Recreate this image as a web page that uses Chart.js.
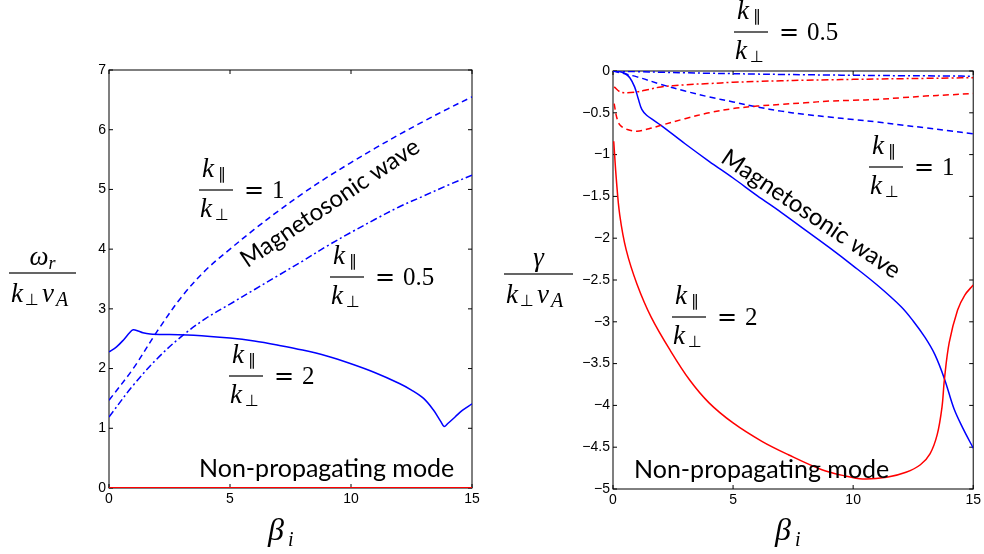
<!DOCTYPE html>
<html>
<head>
<meta charset="utf-8">
<script src="https://cdn.jsdelivr.net/npm/chart.js@4.4.1/dist/chart.umd.min.js"></script>
<style>
  html, body { margin: 0; padding: 0; background: #fff; }
  #wrap { position: relative; width: 984px; height: 554px; overflow: hidden; }
  canvas { position: absolute; top: 0; }
  #omega { left: 0; }
  #gamma { left: 492px; }
</style>
</head>
<body>
<div id="wrap">
  <canvas id="omega" width="492" height="554"></canvas>
  <canvas id="gamma" width="492" height="554"></canvas>
</div>
<script>
// ---- data ----
const betaTicks = [0, 5, 10, 15];
const omegaTicks = [0, 1, 2, 3, 4, 5, 6, 7];
const gammaTicks = [0, -0.5, -1, -1.5, -2, -2.5, -3, -3.5, -4, -4.5, -5];

// left panel: real frequency
const betaGrid = [0, 1, 2, 3, 4, 5, 6, 7, 8, 9, 10, 11, 12, 13, 14, 15];
const betaOmegaK2 = [0, 0.3, 0.6, 0.85, 1.0, 1.2, 1.4, 1.7, 2.5, 3.5, 5, 6, 7, 8, 9, 10, 11, 12, 12.5, 13, 13.4, 13.7, 13.85, 14, 14.3, 14.6, 15];
const omegaK2 = [2.28, 2.36, 2.48, 2.6, 2.65, 2.63, 2.6, 2.58, 2.57, 2.56, 2.51, 2.46, 2.39, 2.31, 2.21, 2.08, 1.93, 1.75, 1.64, 1.5, 1.31, 1.12, 1.03, 1.08, 1.19, 1.3, 1.41];
const omegaK1 = [1.47, 2.0, 2.63, 3.2, 3.65, 4.0, 4.33, 4.64, 4.93, 5.2, 5.45, 5.69, 5.92, 6.14, 6.35, 6.55];
const omegaK05 = [1.19, 1.72, 2.17, 2.54, 2.84, 3.08, 3.32, 3.56, 3.8, 4.05, 4.28, 4.5, 4.71, 4.89, 5.07, 5.24];
const betaNonProp = [0, 15];
const omegaNonProp = [0, 0];

// right panel: damping rate
const betaMs2 = [0, 0.3, 0.5, 0.7, 0.9, 1.05, 1.2, 1.4, 1.7, 2, 3, 4, 5, 6, 7, 8, 9, 10, 11, 12, 12.5, 13, 13.4, 13.8, 14.2, 14.6, 15];
const gammaMs2 = [0, -0.01, -0.03, -0.08, -0.19, -0.33, -0.46, -0.53, -0.59, -0.65, -0.87, -1.08, -1.28, -1.49, -1.69, -1.9, -2.11, -2.33, -2.56, -2.82, -2.99, -3.19, -3.39, -3.68, -4.04, -4.29, -4.51];
const gammaMs1 = [0, -0.07, -0.16, -0.24, -0.31, -0.37, -0.43, -0.48, -0.52, -0.55, -0.58, -0.61, -0.645, -0.68, -0.715, -0.75];
const gammaMs05 = [0, -0.008, -0.015, -0.021, -0.027, -0.032, -0.037, -0.041, -0.045, -0.048, -0.051, -0.054, -0.056, -0.058, -0.06, -0.062];
const betaNp2 = [0.03, 0.14, 0.28, 0.55, 1.0, 1.6, 2.4, 3.2, 4.0, 5.0, 6.2, 7.3, 8.7, 9.6, 10.4, 11.4, 12.2, 12.8, 13.2, 13.5, 13.7, 13.8, 14.0, 14.35, 14.65, 15];
const gammaNp2 = [-0.84, -1.3, -1.72, -2.14, -2.55, -2.95, -3.35, -3.7, -3.97, -4.21, -4.43, -4.59, -4.77, -4.84, -4.88, -4.86, -4.8, -4.71, -4.58, -4.35, -4.02, -3.69, -3.25, -2.86, -2.68, -2.56];
const betaNp1 = [0.05, 0.15, 0.3, 0.6, 1, 1.5, 2, 3, 4, 5, 6, 7, 8, 9, 10, 11, 12, 13, 14, 15];
const gammaNp1 = [-0.39, -0.55, -0.65, -0.7, -0.72, -0.69, -0.65, -0.57, -0.5, -0.45, -0.42, -0.4, -0.38, -0.36, -0.35, -0.34, -0.32, -0.3, -0.285, -0.27];
const betaNp05 = [0.05, 0.3, 0.6, 1, 1.5, 2, 3, 4, 5, 6, 7, 8, 9, 10, 11, 12, 13, 14, 15];
const gammaNp05 = [-0.19, -0.25, -0.26, -0.25, -0.22, -0.19, -0.165, -0.15, -0.135, -0.125, -0.117, -0.11, -0.105, -0.1, -0.096, -0.092, -0.088, -0.084, -0.08];

const BLUE = '#0000ff';
const RED = '#ff0000';
const DASH = [6, 4];
const DASHDOT = [7, 3, 2, 3];

const pts = (xs, ys) => xs.map((x, i) => ({ x, y: ys[i] }));

const line = (xs, ys, color, dash, width) => ({
  data: pts(xs, ys),
  borderColor: color,
  borderWidth: width || 1.5,
  borderDash: dash || [],
  pointRadius: 0,
  fill: false,
  tension: 0.35
});

// ---- text helpers ----
const SERIF = '"Liberation Serif", serif';
const MATH_IT = 'italic 27px ' + SERIF;
const SUB = '16px "DejaVu Sans", sans-serif';

function frac(ctx, x0, yb, rhs) {
  ctx.fillStyle = '#000';
  ctx.textAlign = 'left';
  ctx.textBaseline = 'alphabetic';
  ctx.font = MATH_IT;
  ctx.fillText('k', x0 + 3, yb - 13);
  ctx.fillText('k', x0 + 1, yb + 27);
  ctx.font = SUB;
  ctx.fillText('∥', x0 + 19, yb - 11);
  ctx.fillText('⊥', x0 + 16, yb + 30);
  ctx.fillRect(x0, yb - 0.6, 34, 1.2);
  ctx.font = '24px "DejaVu Sans", sans-serif';
  ctx.fillText('=', x0 + 45, yb + 8);
  ctx.font = '25px ' + SERIF;
  ctx.fillText(rhs, x0 + 73, yb + 8);
}

function yLabel(ctx, x0, x1, yb, top, topSub) {
  ctx.fillStyle = '#000';
  ctx.textBaseline = 'alphabetic';
  ctx.fillRect(x0, yb - 0.6, x1 - x0, 1.2);
  const cx = (x0 + x1) / 2;
  ctx.font = MATH_IT;
  const w1 = ctx.measureText(top).width;
  ctx.font = 'italic 18px ' + SERIF;
  const w2 = topSub ? ctx.measureText(topSub).width : 0;
  const sx = cx - (w1 + w2) / 2;
  ctx.textAlign = 'left';
  ctx.font = MATH_IT;
  ctx.fillText(top, sx, yb - 8);
  if (topSub) {
    ctx.font = 'italic 18px ' + SERIF;
    ctx.fillText(topSub, sx + w1, yb - 4);
  }
  ctx.font = MATH_IT;
  ctx.fillText('k', x0 + 2, yb + 29);
  ctx.font = SUB;
  ctx.fillText('⊥', x0 + 16, yb + 32);
  ctx.font = MATH_IT;
  ctx.fillText('v', x0 + 33, yb + 29);
  ctx.font = 'italic 20px ' + SERIF;
  ctx.fillText('A', x0 + 47, yb + 33);
}

function betaLabel(ctx, x, yb) {
  ctx.fillStyle = '#000';
  ctx.textAlign = 'left';
  ctx.textBaseline = 'alphabetic';
  ctx.font = 'italic 32px ' + SERIF;
  ctx.fillText('β', x, yb);
  ctx.font = 'italic 20px ' + SERIF;
  ctx.fillText('i', x + 20, yb + 6);
}

function sansText(ctx, txt, x, yb) {
  ctx.fillStyle = '#000';
  ctx.textAlign = 'left';
  ctx.textBaseline = 'alphabetic';
  ctx.font = '25px Lato, sans-serif';
  ctx.fillText(txt, x, yb);
}

function rotText(ctx, txt, cx, cy, deg) {
  ctx.save();
  ctx.translate(cx, cy);
  ctx.rotate(deg * Math.PI / 180);
  ctx.fillStyle = '#000';
  ctx.textAlign = 'center';
  ctx.textBaseline = 'middle';
  ctx.font = '24px Lato, sans-serif';
  ctx.fillText(txt, 0, 0);
  ctx.restore();
}

// page-coordinate drawers (right canvas is shifted by 492px)
const drawers = {
  omega(ctx) {
    yLabel(ctx, 9, 76, 273, 'ω', 'r');
    betaLabel(ctx, 268, 540);
    frac(ctx, 199, 190, '1');
    frac(ctx, 330, 277, '0.5');
    frac(ctx, 229, 376, '2');
    rotText(ctx, 'Magnetosonic wave', 330, 203, -34);
    sansText(ctx, 'Non-propagating mode', 199, 477);
  },
  gamma(ctx) {
    ctx.translate(-492, 0);
    yLabel(ctx, 504, 573, 274, 'γ', '');
    betaLabel(ctx, 775, 540);
    frac(ctx, 734, 32, '0.5');
    frac(ctx, 869, 167, '1');
    frac(ctx, 672, 317, '2');
    rotText(ctx, 'Magnetosonic wave', 811, 214, 34);
    sansText(ctx, 'Non-propagating mode', 634, 478);
  }
};

const boxPlugin = {
  id: 'box',
  beforeDatasetsDraw(chart) {
    const { ctx, chartArea: a, scales } = chart;
    ctx.save();
    ctx.strokeStyle = '#000';
    ctx.lineWidth = 1;
    ctx.strokeRect(a.left, a.top, a.right - a.left, a.bottom - a.top);
    ctx.beginPath();
    const tl = 4;
    scales.x.ticks.forEach(t => {
      const px = scales.x.getPixelForValue(t.value);
      ctx.moveTo(px, a.bottom); ctx.lineTo(px, a.bottom - tl);
      ctx.moveTo(px, a.top); ctx.lineTo(px, a.top + tl);
    });
    scales.y.ticks.forEach(t => {
      const py = scales.y.getPixelForValue(t.value);
      ctx.moveTo(a.left, py); ctx.lineTo(a.left + tl, py);
      ctx.moveTo(a.right, py); ctx.lineTo(a.right - tl, py);
    });
    ctx.stroke();
    ctx.restore();
  },
  afterDraw(chart) {
    const ctx = chart.ctx;
    ctx.save();
    drawers[chart.canvas.id](ctx);
    ctx.restore();
  }
};

const tickFont = { family: '"Liberation Sans", Arial, Helvetica, sans-serif', size: 14 };

function xScale() {
  return {
    type: 'linear', min: 0, max: 15,
    afterBuildTicks: s => { s.ticks = betaTicks.map(v => ({ value: v })); },
    afterFit: s => { s.height = 24; },
    grid: { display: false, drawTicks: false },
    border: { display: false },
    ticks: { padding: 3, font: tickFont, color: '#000', maxRotation: 0, autoSkip: false }
  };
}

function yScale(min, max, list, width, fmt) {
  return {
    type: 'linear', min, max,
    afterBuildTicks: s => { s.ticks = list.map(v => ({ value: v })); },
    afterFit: s => { s.width = width; },
    grid: { display: false, drawTicks: false },
    border: { display: false },
    ticks: { padding: 3, font: tickFont, color: '#000', autoSkip: false, callback: fmt }
  };
}

const baseOptions = (padding, yCfg) => ({
  responsive: false,
  animation: false,
  devicePixelRatio: 1,
  layout: { padding },
  plugins: { legend: { display: false }, tooltip: { enabled: false } },
  scales: { x: xScale(), y: yCfg }
});

function build() {
  new Chart(document.getElementById('omega'), {
    type: 'line',
    data: {
      datasets: [
        line(betaNonProp, omegaNonProp, RED, [], 2),
        line(betaOmegaK2, omegaK2, BLUE),
        line(betaGrid, omegaK1, BLUE, DASH),
        line(betaGrid, omegaK05, BLUE, DASHDOT)
      ]
    },
    options: baseOptions({ left: 79, right: 20, top: 70, bottom: 42 },
      yScale(0, 7, omegaTicks, 30, v => String(v))),
    plugins: [boxPlugin]
  });

  new Chart(document.getElementById('gamma'), {
    type: 'line',
    data: {
      datasets: [
        line(betaNp2, gammaNp2, RED),
        line(betaNp1, gammaNp1, RED, DASH),
        line(betaNp05, gammaNp05, RED, DASHDOT),
        line(betaMs2, gammaMs2, BLUE),
        line(betaGrid, gammaMs1, BLUE, DASH),
        line(betaGrid, gammaMs05, BLUE, DASHDOT)
      ]
    },
    options: baseOptions({ left: 87, right: 8, top: 71, bottom: 41 },
      yScale(-5, 0, gammaTicks, 34, v => v === 0 ? '0' : '\u2212' + Math.abs(v))),
    plugins: [boxPlugin]
  });
}

// make sure the serif faces are ready before the canvases are painted
const fontsWanted = [
  'italic 27px "Liberation Serif"', '25px "Liberation Serif"',
  '24px Lato', '16px "DejaVu Sans"', '14px "Liberation Sans"'
];
Promise.all(fontsWanted.map(f => document.fonts.load(f, 'kωβγvA0.5')))
  .catch(() => {})
  .then(build);
</script>
</body>
</html>
